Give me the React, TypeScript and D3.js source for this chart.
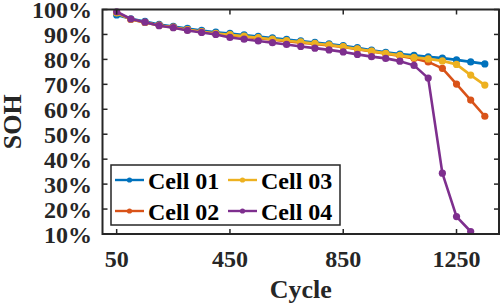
import * as d3 from "d3";
import { useEffect, useRef } from "react";

const cycles = d3.range(50, 1351, 50);

const cell01 = [97.8, 96.3, 95.2, 94.0, 93.2, 92.4, 91.6, 90.9, 90.4, 89.8, 89.2, 88.6, 88.0, 87.4, 86.8, 86.2, 85.5, 84.7, 83.7, 82.8, 82.1, 81.6, 81.0, 80.5, 79.8, 79.0, 78.2];
const cell02 = [98.8, 96.0, 94.8, 93.7, 92.9, 91.9, 91.1, 90.3, 89.7, 89.1, 88.5, 87.9, 87.3, 86.7, 86.2, 85.6, 85.0, 84.1, 83.2, 82.3, 81.4, 80.4, 79.0, 76.4, 70.1, 63.7, 57.2];
const cell03 = [98.6, 96.1, 94.8, 93.6, 92.8, 91.9, 91.1, 90.4, 89.9, 89.3, 88.7, 88.1, 87.5, 87.0, 86.4, 85.8, 85.1, 84.2, 83.3, 82.4, 81.6, 80.8, 80.2, 79.4, 78.0, 73.7, 69.7];
const cell04 = [99.1, 96.2, 94.9, 93.5, 92.7, 91.6, 90.8, 90.0, 88.8, 88.1, 87.4, 86.7, 86.0, 85.2, 84.5, 83.8, 83.0, 82.0, 81.1, 80.4, 79.3, 77.6, 72.5, 34.4, 17.0, 11.0];

const seriesNames = ["Cell 01", "Cell 02", "Cell 03", "Cell 04"];
const seriesColors = ["#0072BD", "#D95319", "#EDB120", "#7E2F8E"];
const xTicks = [50, 450, 850, 1250];
const yTicks = d3.range(10, 101, 10);

const App = () => {
  const svgRef = useRef<SVGSVGElement>(null);

  useEffect(() => {
    const width = 502;
    const height = 306;
    const left = 102.5, right = 499, top = 9.5, bottom = 234;
    const font = "'Liberation Serif', 'Times New Roman', serif";
    const ink = "#262626";

    const x = d3.scaleLinear().domain([0, 1400]).range([left, right]);
    const y = d3.scaleLinear().domain([10, 100]).range([bottom, top]);

    const svg = d3.select(svgRef.current);
    svg.selectAll("*").remove();
    svg.attr("width", width).attr("height", height)
      .style("position", "absolute").style("left", 0).style("top", 0)
      .style("font-family", font).style("font-weight", "bold");

    const all = [cell01, cell02, cell03, cell04];

    const line = d3.line<number>()
      .x((d, i) => x(cycles[i]))
      .y((d) => y(d));

    all.forEach((vals, k) => {
      const g = svg.append("g");
      g.append("path")
        .attr("d", line(vals))
        .attr("fill", "none")
        .attr("stroke", seriesColors[k])
        .attr("stroke-width", 2.6)
        .attr("stroke-linejoin", "round");
      g.selectAll("circle")
        .data(vals)
        .join("circle")
        .attr("cx", (d, i) => x(cycles[i]))
        .attr("cy", (d) => y(d))
        .attr("r", 3.6)
        .attr("fill", seriesColors[k]);
    });

    // axes box
    svg.append("rect")
      .attr("x", left).attr("y", top)
      .attr("width", right - left).attr("height", bottom - top)
      .attr("fill", "none").attr("stroke", ink).attr("stroke-width", 2);

    const tl = 5;
    xTicks.forEach((t) => {
      svg.append("line").attr("x1", x(t)).attr("x2", x(t)).attr("y1", bottom).attr("y2", bottom - tl)
        .attr("stroke", ink).attr("stroke-width", 1.5);
      svg.append("line").attr("x1", x(t)).attr("x2", x(t)).attr("y1", top).attr("y2", top + tl)
        .attr("stroke", ink).attr("stroke-width", 1.5);
      svg.append("text").attr("x", x(t)).attr("y", 267)
        .attr("text-anchor", "middle").attr("font-size", 24).attr("fill", ink)
        .text(t);
    });
    yTicks.forEach((t) => {
      svg.append("line").attr("x1", left).attr("x2", left + tl).attr("y1", y(t)).attr("y2", y(t))
        .attr("stroke", ink).attr("stroke-width", 1.5);
      svg.append("line").attr("x1", right).attr("x2", right - tl).attr("y1", y(t)).attr("y2", y(t))
        .attr("stroke", ink).attr("stroke-width", 1.5);
      svg.append("text").attr("x", 92).attr("y", y(t) + 8.5)
        .attr("text-anchor", "end").attr("font-size", 24).attr("fill", ink)
        .text(`${t}%`);
    });

    svg.append("text").attr("x", (left + right) / 2).attr("y", 298)
      .attr("text-anchor", "middle").attr("font-size", 26).attr("fill", ink)
      .text("Cycle");
    svg.append("text")
      .attr("transform", `translate(21,${(top + bottom) / 2}) rotate(-90)`)
      .attr("text-anchor", "middle").attr("font-size", 26).attr("fill", ink)
      .text("SOH");

    // legend
    const lg = svg.append("g");
    lg.append("rect").attr("x", 111).attr("y", 165).attr("width", 229).attr("height", 60)
      .attr("fill", "white").attr("stroke", ink).attr("stroke-width", 1.5);
    const pos = [[115, 180], [115, 211], [228, 180], [228, 211]];
    seriesNames.forEach((name, k) => {
      const [lx, ly] = pos[k];
      lg.append("line").attr("x1", lx).attr("x2", lx + 29).attr("y1", ly).attr("y2", ly)
        .attr("stroke", seriesColors[k]).attr("stroke-width", 2.4);
      lg.append("circle").attr("cx", lx + 14.5).attr("cy", ly).attr("r", 2.6).attr("fill", seriesColors[k]);
      lg.append("text").attr("x", lx + 33).attr("y", ly + 9)
        .attr("font-size", 24).attr("fill", "black").text(name);
    });
  }, []);

  return <svg ref={svgRef}></svg>;
};

export default App;
